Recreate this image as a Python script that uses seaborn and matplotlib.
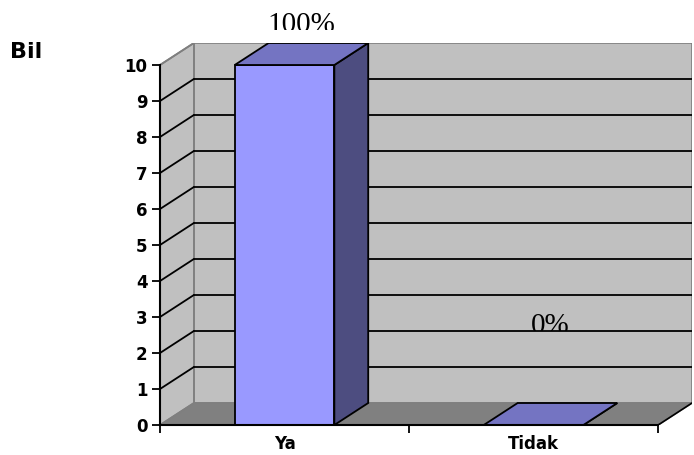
import matplotlib
matplotlib.use("Agg")
import matplotlib.pyplot as plt
import seaborn as sns
from matplotlib.patches import Polygon, Rectangle
from matplotlib.transforms import Bbox, TransformedBbox

# --- data -------------------------------------------------------------
categories = ["Ya", "Tidak"]
counts = [10, 0]
percent_labels = ["100%", "0%"]
y_ticks = list(range(0, 11))
y_axis_label = "Bil"

# --- style -------------------------------------------------------------
FRONT = "#9999FF"
SIDE = "#4D4D80"
TOP = "#7474C2"
WALL = "#C0C0C0"
FLOOR = "#808080"
EDGE_GRAY = "#7F7F7F"
DX = 0.136   # depth offset in category units
DY = 0.611   # depth offset in value units
BAR_W = 0.4

sns.set_theme(style="white")
plt.rcParams["font.family"] = ["DejaVu Sans"]
plt.rcParams["text.color"] = "black"
plt.rcParams["xtick.color"] = "black"
plt.rcParams["ytick.color"] = "black"
plt.rcParams["axes.labelcolor"] = "black"

fig = plt.figure(figsize=(6.94, 4.55), dpi=100)
ax = fig.add_axes([160 / 694, 30 / 455, 532 / 694, 382 / 455])
ax.set_facecolor("none")

ymax = max(y_ticks)
x0, x1 = -0.5, len(categories) - 0.5

# back wall, left wall and floor
ax.add_patch(Rectangle((x0 + DX, DY), x1 - x0, ymax, facecolor=WALL,
                       edgecolor=EDGE_GRAY, lw=1.2, zorder=0.5))
ax.add_patch(Polygon([(x0, 0), (x0 + DX, DY), (x0 + DX, ymax + DY), (x0, ymax)],
                     closed=True, facecolor=WALL, edgecolor=EDGE_GRAY, lw=1.2, zorder=0.6))
ax.add_patch(Polygon([(x0, 0), (x1, 0), (x1 + DX, DY), (x0 + DX, DY)],
                     closed=True, facecolor=FLOOR, edgecolor=EDGE_GRAY, lw=1.2, zorder=0.6))
ax.plot([x1, x1 + DX], [0, DY], color="black", lw=1.2, zorder=0.7)

# gridlines on the back wall and left wall
for t in y_ticks[1:-1]:
    ax.plot([x0 + DX, x1 + DX], [t + DY, t + DY], color="black", lw=1.3, zorder=1)
for t in y_ticks[1:]:
    col = EDGE_GRAY if t == ymax else "black"
    ax.plot([x0, x0 + DX], [t, t + DY], color=col, lw=1.3, zorder=1)

# front faces of the bars
sns.barplot(x=categories, y=counts, width=BAR_W, color=FRONT, saturation=1,
            edgecolor="black", linewidth=1.3, ax=ax, zorder=2)

# side and top faces derived from each bar
for patch, v in zip(ax.patches[-len(categories):], counts):
    patch.set_zorder(2)
    bx = patch.get_x()
    bw = patch.get_width()
    right = bx + bw
    ax.add_patch(Polygon([(right, 0), (right + DX, DY), (right + DX, v + DY), (right, v)],
                         closed=True, facecolor=SIDE, edgecolor="black", lw=1.3, zorder=2))
    ax.add_patch(Polygon([(bx, v), (right, v), (right + DX, v + DY), (bx + DX, v + DY)],
                         closed=True, facecolor=TOP, edgecolor="black", lw=1.3, zorder=2))

# percentage labels
label_y = [ymax + DY + 0.30, 2 + DY - 0.06]
clip_top = [ymax + DY + 0.36, 2 + DY]
for i, (txt, ly, ct) in enumerate(zip(percent_labels, label_y, clip_top)):
    t = ax.text(i + DX / 2, ly, txt, ha="center", va="baseline",
                fontsize=21, family="Liberation Serif", color="black", zorder=0.9)
    t.set_clip_box(TransformedBbox(Bbox([[i - 1, ct], [i + 1, 20]]), ax.transData))
    t.set_clip_on(True)

ax.set_xlim(x0, x1 + DX)
ax.set_ylim(0, ymax + DY)

# axes, ticks and labels
for s in ["top", "right"]:
    ax.spines[s].set_visible(False)
for s in ["left", "bottom"]:
    ax.spines[s].set_color("black")
    ax.spines[s].set_linewidth(1.5)
    ax.spines[s].set_zorder(3)
ax.spines["left"].set_bounds(0, ymax)
ax.spines["bottom"].set_bounds(x0, x1)

ax.set_yticks(y_ticks)
ax.set_yticklabels([str(t) for t in y_ticks], fontsize=12, fontweight="bold")
ax.tick_params(axis="y", length=6, width=1.3, color="black", left=True, pad=3,
               labelcolor="black")
ax.set_xticks(range(len(categories)))
ax.set_xticklabels(categories, fontsize=12, fontweight="bold")
ax.set_xticks([x0 + k for k in range(len(categories) + 1)], minor=True)
ax.tick_params(axis="x", which="major", length=0, pad=7, labelcolor="black")
ax.tick_params(axis="x", which="minor", length=6, width=1.3, color="black", bottom=True)
ax.set_xlabel("")
ax.set_ylabel("")
ax.grid(False)

fig.text(10 / 694, 1 - 58 / 455, y_axis_label, fontsize=16, fontweight="bold",
         ha="left", va="baseline", color="black")

fig.savefig("out.png", dpi=100)
